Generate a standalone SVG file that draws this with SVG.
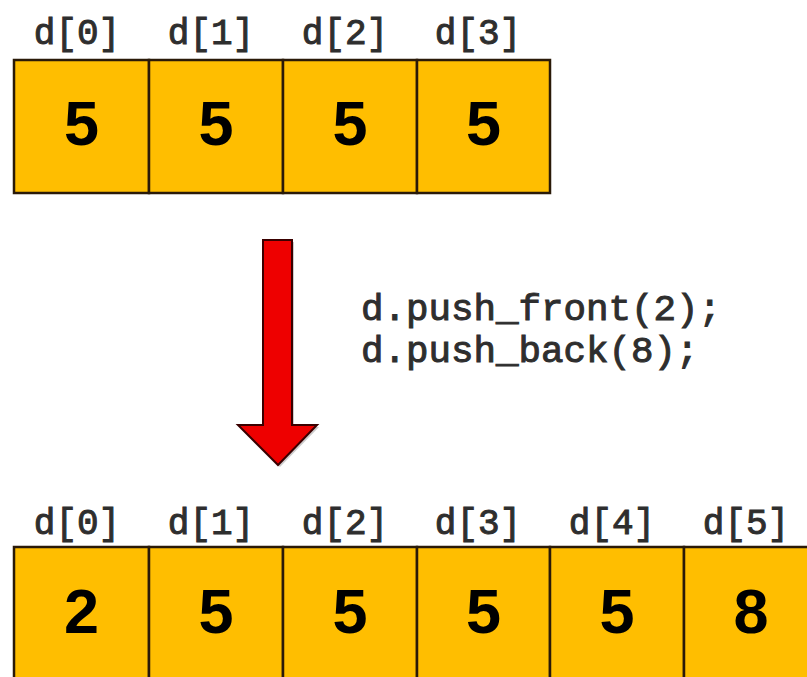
<svg xmlns="http://www.w3.org/2000/svg" width="807" height="677" viewBox="0 0 807 677">
<style>
.cell{fill:#FFBE00;stroke:#2a1a08;stroke-width:2.5}
.lbl{font-family:"Liberation Mono","Courier New",monospace;font-size:36px;fill:#2e2e2e;stroke:#2e2e2e;stroke-width:1;text-anchor:middle}
.val{font-family:"Liberation Sans",Arial,sans-serif;font-weight:bold;font-size:63px;fill:#000;text-anchor:middle}
.code{font-family:"Liberation Mono","Courier New",monospace;font-size:37.5px;fill:#2e2e2e;stroke:#2e2e2e;stroke-width:1}
</style>
<rect width="807" height="677" fill="#fff"/>
<g id="before">
<g id="b0"><rect class="cell" x="14" y="60" width="135" height="133"/><text class="lbl" x="77" y="44">d[0]</text><text class="val" x="81.5" y="145">5</text></g>
<g id="b1"><rect class="cell" x="149" y="60" width="134" height="133"/><text class="lbl" x="211" y="44">d[1]</text><text class="val" x="216" y="145">5</text></g>
<g id="b2"><rect class="cell" x="283" y="60" width="134" height="133"/><text class="lbl" x="345" y="44">d[2]</text><text class="val" x="350" y="145">5</text></g>
<g id="b3"><rect class="cell" x="417" y="60" width="133" height="133"/><text class="lbl" x="478" y="44">d[3]</text><text class="val" x="483.5" y="145">5</text></g>
</g>
<g id="connectors">
<polygon points="265,242 294,242 294,427 319,427 280,467 240,427 265,427" fill="#999" opacity="0.5"/>
<polygon points="263,240 292,240 292,425 317,425 278,465 238,425 263,425" fill="#EE0000" stroke="#3a0000" stroke-width="2"/>
</g>
<g id="code">
<text class="code" x="361" y="320">d.push_front(2);</text>
<text class="code" x="361" y="362">d.push_back(8);</text>
</g>
<g id="after">
<g id="a0"><rect class="cell" x="14" y="547" width="135" height="140"/><text class="lbl" x="77" y="534">d[0]</text><text class="val" x="81.5" y="633">2</text></g>
<g id="a1"><rect class="cell" x="149" y="547" width="134" height="140"/><text class="lbl" x="211" y="534">d[1]</text><text class="val" x="216" y="633">5</text></g>
<g id="a2"><rect class="cell" x="283" y="547" width="134" height="140"/><text class="lbl" x="345" y="534">d[2]</text><text class="val" x="350" y="633">5</text></g>
<g id="a3"><rect class="cell" x="417" y="547" width="133" height="140"/><text class="lbl" x="478" y="534">d[3]</text><text class="val" x="483.5" y="633">5</text></g>
<g id="a4"><rect class="cell" x="550" y="547" width="134" height="140"/><text class="lbl" x="612" y="534">d[4]</text><text class="val" x="617" y="633">5</text></g>
<g id="a5"><rect class="cell" x="684" y="547" width="134" height="140"/><text class="lbl" x="746" y="534">d[5]</text><text class="val" x="751" y="633">8</text></g>
</g>
</svg>
